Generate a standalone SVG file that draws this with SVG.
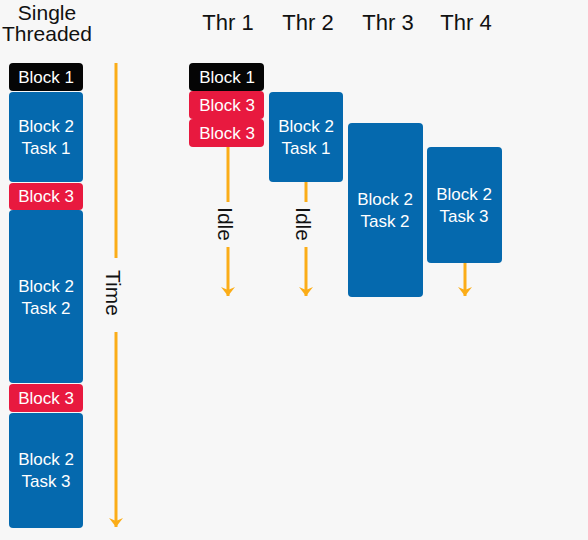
<svg xmlns="http://www.w3.org/2000/svg" width="588" height="540" viewBox="0 0 588 540">
<defs>
<style>
.bg{fill:#f7f7f7}
.blk{fill:#050505}
.red{fill:#e8193f}
.blue{fill:#0569ae}
.lbl{font-family:"Liberation Sans",Arial,sans-serif;font-size:17px;fill:#ffffff;text-anchor:middle}
.hdr{font-family:"Liberation Sans",Arial,sans-serif;font-size:22px;fill:#111111;text-anchor:middle}
.side{font-family:"Liberation Sans",Arial,sans-serif;font-size:21px;fill:#111111;text-anchor:middle}
.arr{stroke:#fbad18;stroke-width:3;fill:none}
</style>
<marker id="ah" markerUnits="userSpaceOnUse" markerWidth="12" markerHeight="16" viewBox="-10 -8 12 16" refX="0" refY="0" orient="auto">
<path d="M0,0 L-9,-7 L-6,0 L-9,7 Z" fill="#fbad18"/>
</marker>
</defs>
<rect class="bg" x="0" y="0" width="588" height="540"/>

<g id="headers">
<text class="hdr" x="47" y="20" style="font-size:21px">Single</text>
<text class="hdr" x="47" y="41" style="font-size:21px">Threaded</text>
<text class="hdr" x="228" y="30">Thr 1</text>
<text class="hdr" x="308" y="30">Thr 2</text>
<text class="hdr" x="388" y="30">Thr 3</text>
<text class="hdr" x="466" y="30">Thr 4</text>
</g>

<g id="connectors">
<line class="arr" x1="116" y1="63" x2="116" y2="258"/>
<line class="arr" x1="116" y1="332" x2="116" y2="527" marker-end="url(#ah)"/>
<line class="arr" x1="228" y1="147" x2="228" y2="202"/>
<line class="arr" x1="228" y1="247" x2="228" y2="296" marker-end="url(#ah)"/>
<line class="arr" x1="306" y1="182" x2="306" y2="202"/>
<line class="arr" x1="306" y1="247" x2="306" y2="296" marker-end="url(#ah)"/>
<line class="arr" x1="465" y1="263" x2="465" y2="296" marker-end="url(#ah)"/>
<text class="side" transform="translate(116,293) rotate(90)" x="0" y="10">Time</text>
<text class="side" transform="translate(228,224) rotate(90)" x="0" y="10">Idle</text>
<text class="side" transform="translate(306,224) rotate(90)" x="0" y="10">Idle</text>
</g>

<g id="st-block1"><rect class="blk" x="9" y="63" width="74" height="28" rx="4"/><text class="lbl" x="46" y="83">Block 1</text></g>
<g id="st-task1"><rect class="blue" x="9" y="92" width="74" height="90" rx="4"/><text class="lbl" x="46" y="132">Block 2</text><text class="lbl" x="46" y="154">Task 1</text></g>
<g id="st-block3a"><rect class="red" x="9" y="183" width="74" height="27" rx="4"/><text class="lbl" x="46" y="202">Block 3</text></g>
<g id="st-task2"><rect class="blue" x="9" y="210" width="74" height="173" rx="4"/><text class="lbl" x="46" y="292">Block 2</text><text class="lbl" x="46" y="314">Task 2</text></g>
<g id="st-block3b"><rect class="red" x="9" y="384" width="74" height="28" rx="4"/><text class="lbl" x="46" y="404">Block 3</text></g>
<g id="st-task3"><rect class="blue" x="9" y="413" width="74" height="115" rx="4"/><text class="lbl" x="46" y="465">Block 2</text><text class="lbl" x="46" y="487">Task 3</text></g>

<g id="t1-block1"><rect class="blk" x="189" y="63" width="75" height="28" rx="4"/><text class="lbl" x="227" y="83">Block 1</text></g>
<g id="t1-block3a"><rect class="red" x="189" y="91" width="75" height="28" rx="4"/><text class="lbl" x="227" y="111">Block 3</text></g>
<g id="t1-block3b"><rect class="red" x="189" y="119" width="75" height="28" rx="4"/><text class="lbl" x="227" y="139">Block 3</text></g>
<g id="t2-task1"><rect class="blue" x="269" y="92" width="74" height="90" rx="4"/><text class="lbl" x="306" y="132">Block 2</text><text class="lbl" x="306" y="154">Task 1</text></g>
<g id="t3-task2"><rect class="blue" x="348" y="123" width="75" height="174" rx="4"/><text class="lbl" x="385" y="205">Block 2</text><text class="lbl" x="385" y="227">Task 2</text></g>
<g id="t4-task3"><rect class="blue" x="427" y="147" width="75" height="116" rx="4"/><text class="lbl" x="464" y="200">Block 2</text><text class="lbl" x="464" y="222">Task 3</text></g>
</svg>
